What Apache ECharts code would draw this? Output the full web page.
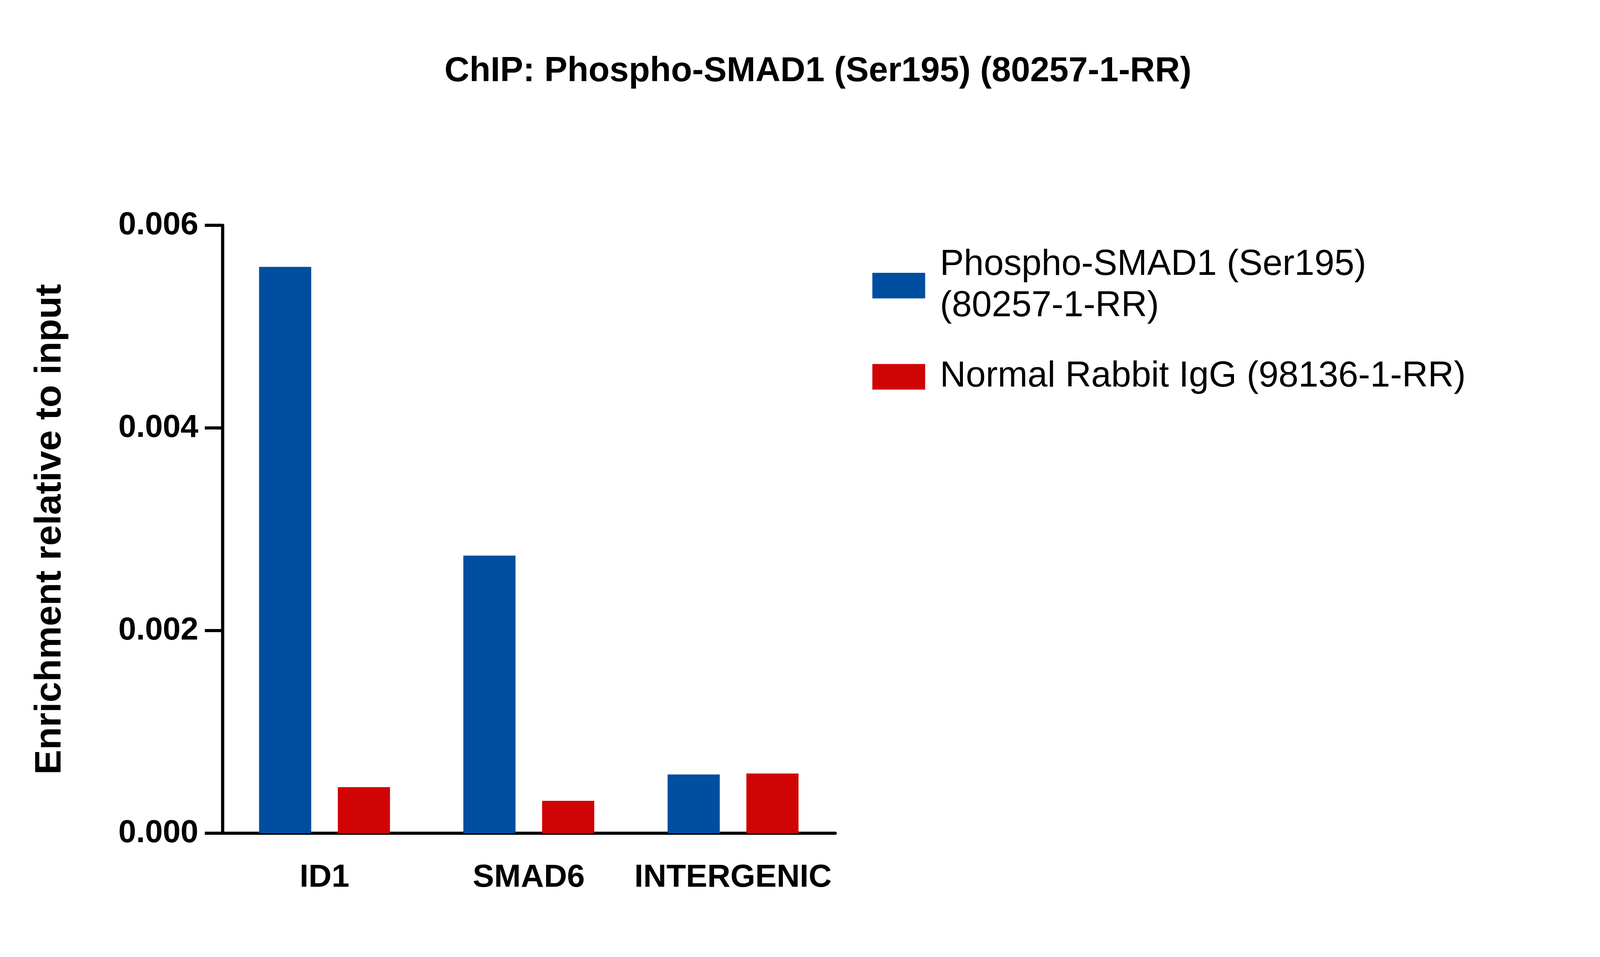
<!DOCTYPE html>
<html>
<head>
<meta charset="utf-8">
<script src="https://cdn.jsdelivr.net/npm/echarts@6/dist/echarts.min.js"></script>
<style>html,body{margin:0;background:#fff;overflow:hidden}#chart{width:100vw;height:100vh}</style>
</head>
<body>
<div id="chart"></div>
<script>
var categories = ['ID1', 'SMAD6', 'INTERGENIC'];
var phosphoValues = [0.00559, 0.00274, 0.00058];
var iggValues = [0.000455, 0.00032, 0.00059];
var yTicks = [0, 0.002, 0.004, 0.006];

var el = document.getElementById('chart');
var chart = echarts.init(el);

// layout was measured on a 5000x2451 picture, scale to whatever we got
var sx = el.clientWidth / 5000;
var sy = el.clientHeight / 2451;
var s = Math.min(sx, sy);

var axisFont = 'Liberation Sans Narrow, Liberation Sans, Arial';

chart.setOption({
    animation: false,
    title: {
        text: 'ChIP: Phospho-SMAD1 (Ser195) (80257-1-RR)',
        left: 2550 * sx,
        textAlign: 'center',
        top: 135 * sy,
        textStyle: {fontFamily: 'Liberation Sans', fontWeight: 'bold', fontSize: 108 * s, color: '#000'}
    },
    legend: {
        orient: 'vertical',
        left: 2720 * sx,
        top: 620 * sy,
        icon: 'rect',
        itemWidth: 165 * s,
        itemHeight: 80 * s,
        itemGap: 90 * s,
        data: ['Phospho-SMAD1 (Ser195)\n(80257-1-RR)', 'Normal Rabbit IgG (98136-1-RR)'],
        textStyle: {fontFamily: 'Liberation Sans', fontSize: 112 * s, color: '#000', lineHeight: 130 * s, padding: [0, 0, 0, 40 * s]}
    },
    grid: {left: 695 * sx, top: 577 * sy, width: 1915 * sx, height: 1557 * sy},
    xAxis: {
        type: 'category',
        data: categories,
        axisLine: {lineStyle: {color: '#000', width: 10 * s}},
        axisTick: {alignWithLabel: true, length: 60 * s, lineStyle: {color: '#000', width: 10 * s}},
        axisLabel: {interval: 0, margin: 90 * s, fontFamily: axisFont, fontWeight: 'bold', fontSize: 100 * s, color: '#000'}
    },
    yAxis: {
        type: 'value',
        min: 0,
        max: yTicks[yTicks.length - 1],
        interval: 0.002,
        name: 'Enrichment relative to input',
        nameLocation: 'middle',
        nameGap: 480 * s,
        nameTextStyle: {fontFamily: 'Liberation Sans', fontWeight: 'bold', fontSize: 116 * s, color: '#000'},
        splitLine: {show: false},
        axisLine: {show: true, lineStyle: {color: '#000', width: 10 * s}},
        axisTick: {show: true, length: 55 * s, lineStyle: {color: '#000', width: 10 * s}},
        axisLabel: {
            margin: 75 * s, fontFamily: axisFont, fontWeight: 'bold', fontSize: 100 * s, color: '#000',
            formatter: function (v) { return v.toFixed(3); }
        }
    },
    series: [
        {
            name: 'Phospho-SMAD1 (Ser195)\n(80257-1-RR)',
            type: 'bar',
            data: phosphoValues,
            barWidth: 163 * sx,
            barGap: '51%',
            itemStyle: {color: '#004e9f'}
        },
        {
            name: 'Normal Rabbit IgG (98136-1-RR)',
            type: 'bar',
            data: iggValues,
            barWidth: 163 * sx,
            itemStyle: {color: '#d00404'}
        }
    ]
});
</script>
</body>
</html>
